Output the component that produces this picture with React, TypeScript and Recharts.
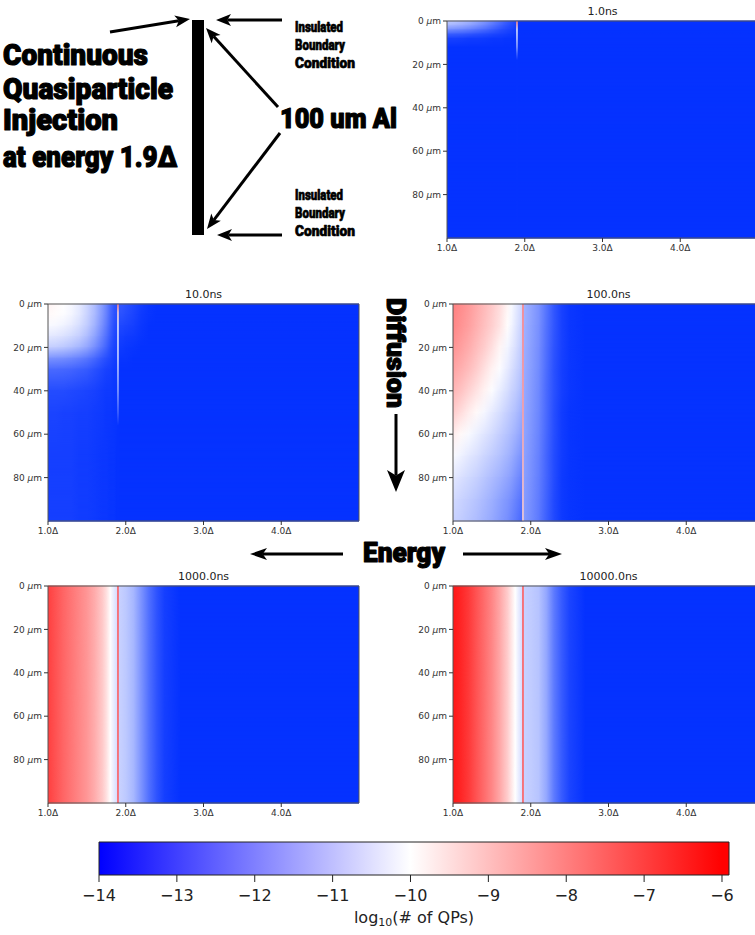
import React from 'react';
import { ComposedChart, XAxis, YAxis, ReferenceArea, Scatter } from 'recharts';

// energy grid (units of Delta) shared by every heat-map row
const ENERGY_NODES = [1.0, 1.1, 1.2, 1.3, 1.4, 1.5, 1.6, 1.7, 1.75, 1.8, 1.85, 1.88, 1.92, 1.95, 2.0, 2.1, 2.2, 2.3, 2.4, 2.5, 2.7, 3.0, 5.0];
const ENERGY_TICKS = [1, 2, 3, 4];
const DEPTH_TICKS = [0, 20, 40, 60, 80];
const E_MIN = 1;
const E_MAX = 5;
const DEPTH_MAX = 100;
const INJECTION_ENERGY = 1.9;

// ---- 1.0 ns : log10(# of QPs) per depth row (um) ----
const DEPTHS_1NS = [0, 2, 4, 6, 8, 12, 100];
const ROWS_1NS = [
  [-11.0, -11.1, -11.3, -11.5, -11.8, -12.1, -12.5, -12.9, -13.1, -13.3, -13.5, -13.6, -13.9, -14, -14, -14, -14, -14, -14, -14, -14, -14, -14],
  [-11.4, -11.5, -11.65, -11.85, -12.1, -12.4, -12.75, -13.1, -13.3, -13.45, -13.6, -13.7, -14, -14, -14, -14, -14, -14, -14, -14, -14, -14, -14],
  [-12.2, -12.3, -12.4, -12.55, -12.75, -12.95, -13.2, -13.45, -13.55, -13.65, -13.75, -13.8, -14, -14, -14, -14, -14, -14, -14, -14, -14, -14, -14],
  [-13.1, -13.15, -13.2, -13.3, -13.4, -13.5, -13.6, -13.7, -13.75, -13.8, -13.85, -13.9, -14, -14, -14, -14, -14, -14, -14, -14, -14, -14, -14],
  [-13.7, -13.7, -13.75, -13.8, -13.8, -13.85, -13.9, -13.9, -13.95, -13.95, -14, -14, -14, -14, -14, -14, -14, -14, -14, -14, -14, -14, -14],
  [-14, -14, -14, -14, -14, -14, -14, -14, -14, -14, -14, -14, -14, -14, -14, -14, -14, -14, -14, -14, -14, -14, -14],
  [-14, -14, -14, -14, -14, -14, -14, -14, -14, -14, -14, -14, -14, -14, -14, -14, -14, -14, -14, -14, -14, -14, -14],
];
const LINE_DEPTHS_1NS = [0, 2, 4, 8, 12, 15, 18, 100];
const LINE_VALUES_1NS = [-8.0, -8.8, -10.5, -11.0, -11.8, -13.0, -14, -14];

// ---- 10.0 ns ----
const DEPTHS_10NS = [0, 5, 10, 15, 20, 25, 30, 40, 50, 70, 100];
const ROWS_10NS = [
  [-9.8, -9.9, -10.0, -10.15, -10.4, -10.8, -11.3, -12.0, -12.4, -12.9, -13.3, -13.4, -13.3, -13.3, -13.4, -13.6, -13.8, -13.95, -14, -14, -14, -14, -14],
  [-9.9, -9.95, -10.05, -10.2, -10.45, -10.85, -11.35, -12.05, -12.45, -12.95, -13.35, -13.45, -13.4, -13.4, -13.5, -13.65, -13.85, -13.95, -14, -14, -14, -14, -14],
  [-10.1, -10.15, -10.25, -10.4, -10.65, -11.0, -11.5, -12.2, -12.6, -13.05, -13.45, -13.55, -13.6, -13.6, -13.65, -13.75, -13.9, -14, -14, -14, -14, -14, -14],
  [-10.45, -10.5, -10.6, -10.75, -10.95, -11.3, -11.8, -12.45, -12.8, -13.2, -13.55, -13.65, -13.75, -13.75, -13.8, -13.85, -13.95, -14, -14, -14, -14, -14, -14],
  [-10.95, -11.0, -11.1, -11.25, -11.45, -11.75, -12.2, -12.75, -13.05, -13.4, -13.65, -13.7, -13.85, -13.85, -13.9, -13.95, -14, -14, -14, -14, -14, -14, -14],
  [-12.1, -12.15, -12.2, -12.3, -12.45, -12.65, -12.95, -13.3, -13.45, -13.6, -13.75, -13.8, -13.95, -13.95, -13.95, -14, -14, -14, -14, -14, -14, -14, -14],
  [-12.9, -12.9, -12.95, -13.0, -13.1, -13.2, -13.4, -13.6, -13.7, -13.75, -13.85, -13.85, -14, -14, -14, -14, -14, -14, -14, -14, -14, -14, -14],
  [-13.5, -13.5, -13.5, -13.55, -13.6, -13.65, -13.7, -13.8, -13.85, -13.85, -13.9, -13.9, -14, -14, -14, -14, -14, -14, -14, -14, -14, -14, -14],
  [-13.65, -13.65, -13.7, -13.7, -13.75, -13.75, -13.8, -13.85, -13.9, -13.9, -13.95, -13.95, -14, -14, -14, -14, -14, -14, -14, -14, -14, -14, -14],
  [-13.75, -13.75, -13.75, -13.75, -13.8, -13.8, -13.85, -13.9, -13.9, -13.95, -13.95, -14, -14, -14, -14, -14, -14, -14, -14, -14, -14, -14, -14],
  [-13.75, -13.75, -13.75, -13.75, -13.8, -13.8, -13.85, -13.9, -13.9, -13.95, -13.95, -14, -14, -14, -14, -14, -14, -14, -14, -14, -14, -14, -14],
];
const LINE_DEPTHS_10NS = [0, 4, 10, 25, 40, 50, 56, 100];
const LINE_VALUES_10NS = [-8.0, -9.3, -10.5, -10.8, -11.8, -13.0, -14, -14];

// ---- 100.0 ns ----
const DEPTHS_100NS = [0, 10, 20, 30, 40, 50, 60, 70, 80, 90, 100];
const ROWS_100NS = [
  [-8.0, -8.2, -8.4, -8.65, -8.9, -9.15, -9.45, -9.85, -10.1, -10.35, -10.6, -10.75, -11.5, -11.6, -11.75, -12.1, -12.7, -13.3, -13.7, -13.9, -14, -14, -14],
  [-8.1, -8.3, -8.5, -8.75, -9.0, -9.25, -9.55, -9.95, -10.2, -10.45, -10.7, -10.85, -11.55, -11.65, -11.8, -12.15, -12.75, -13.3, -13.7, -13.9, -14, -14, -14],
  [-8.3, -8.5, -8.7, -8.95, -9.2, -9.5, -9.85, -10.2, -10.4, -10.6, -10.85, -11.0, -11.6, -11.7, -11.85, -12.2, -12.8, -13.35, -13.7, -13.9, -14, -14, -14],
  [-8.55, -8.75, -8.95, -9.2, -9.5, -9.8, -10.05, -10.4, -10.6, -10.8, -11.0, -11.15, -11.65, -11.75, -11.9, -12.25, -12.85, -13.4, -13.75, -13.9, -14, -14, -14],
  [-8.85, -9.05, -9.3, -9.55, -9.8, -10.05, -10.35, -10.65, -10.85, -11.0, -11.2, -11.35, -11.7, -11.8, -11.95, -12.3, -12.9, -13.4, -13.75, -13.9, -14, -14, -14],
  [-9.2, -9.45, -9.7, -9.9, -10.15, -10.4, -10.65, -10.95, -11.1, -11.25, -11.45, -11.6, -11.75, -11.85, -12.0, -12.35, -12.9, -13.45, -13.8, -13.95, -14, -14, -14],
  [-9.7, -9.9, -10.1, -10.3, -10.5, -10.7, -10.95, -11.2, -11.35, -11.5, -11.7, -11.85, -11.8, -11.9, -12.05, -12.4, -12.95, -13.45, -13.8, -13.95, -14, -14, -14],
  [-10.1, -10.25, -10.45, -10.6, -10.8, -11.0, -11.2, -11.45, -11.6, -11.8, -12.0, -12.15, -11.85, -11.95, -12.1, -12.45, -13.0, -13.5, -13.8, -13.95, -14, -14, -14],
  [-10.45, -10.6, -10.75, -10.9, -11.1, -11.3, -11.5, -11.75, -11.9, -12.1, -12.3, -12.45, -11.9, -12.0, -12.15, -12.5, -13.0, -13.5, -13.85, -13.95, -14, -14, -14],
  [-10.7, -10.85, -11.0, -11.15, -11.35, -11.55, -11.8, -12.05, -12.2, -12.4, -12.6, -12.75, -11.95, -12.05, -12.2, -12.55, -13.05, -13.55, -13.85, -13.95, -14, -14, -14],
  [-10.9, -11.0, -11.15, -11.3, -11.5, -11.7, -11.95, -12.2, -12.4, -12.6, -12.8, -12.95, -12.0, -12.1, -12.25, -12.6, -13.1, -13.55, -13.85, -13.95, -14, -14, -14],
];
const LINE_DEPTHS_100NS = [0, 50, 100];
const LINE_VALUES_100NS = [-8.0, -8.5, -9.3];

// ---- 1000.0 ns (no depth dependence) ----
const DEPTHS_1000NS = [0, 100];
const PROFILE_1000NS = [-7.0, -7.3, -7.6, -7.85, -8.1, -8.35, -8.7, -9.15, -9.5, -9.95, -10.4, -10.6, -10.9, -10.95, -11.05, -11.4, -12.1, -12.8, -13.35, -13.75, -14, -14, -14];
const LINE_DEPTHS_1000NS = [0, 100];
const LINE_VALUES_1000NS = [-7.4, -7.4];

// ---- 10000.0 ns (no depth dependence) ----
const DEPTHS_10000NS = [0, 100];
const PROFILE_10000NS = [-6.35, -6.6, -6.9, -7.3, -7.7, -8.1, -8.6, -9.2, -9.6, -10.0, -10.4, -10.6, -10.9, -10.95, -11.0, -11.15, -11.7, -12.6, -13.2, -13.65, -14, -14, -14];
const LINE_DEPTHS_10000NS = [0, 100];
const LINE_VALUES_10000NS = [-7.4, -7.4];

// colour bar
const CBAR_TICKS = [-14, -13, -12, -11, -10, -9, -8, -7, -6];
const CBAR_START = -14;
const CBAR_END = -5.91;

// bwr colour maps (panels were captured slightly bluer than the bar)
const PANEL_MAP = [
  { v: -14, rgb: [5, 50, 255] },
  { v: -10, rgb: [255, 255, 255] },
  { v: -6, rgb: [255, 0, 0] },
];
const BAR_MAP = [
  { v: -14, rgb: [0, 0, 255] },
  { v: -10, rgb: [255, 255, 255] },
  { v: -6, rgb: [255, 0, 0] },
];

function colorAt(map: { v: number; rgb: number[] }[], v: number) {
  const fmt = (c: number[]) => `rgb(${c.map((x) => Math.round(x)).join(',')})`;
  if (v <= map[0].v) return fmt(map[0].rgb);
  for (let i = 0; i < map.length - 1; i++) {
    const a = map[i];
    const b = map[i + 1];
    if (v <= b.v) {
      const t = (v - a.v) / (b.v - a.v);
      return fmt(a.rgb.map((c, k) => c + (b.rgb[k] - c) * t));
    }
  }
  return fmt(map[map.length - 1].rgb);
}

const PLOT_W = 311;
const PLOT_H = 217;
const Y_AXIS_W = 50;

const PANELS = [
  { id: 'p1', title: '1.0ns', depths: DEPTHS_1NS, rows: ROWS_1NS, lineDepths: LINE_DEPTHS_1NS, lineValues: LINE_VALUES_1NS, left: 447, top: 21 },
  { id: 'p2', title: '10.0ns', depths: DEPTHS_10NS, rows: ROWS_10NS, lineDepths: LINE_DEPTHS_10NS, lineValues: LINE_VALUES_10NS, left: 48, top: 304 },
  { id: 'p3', title: '100.0ns', depths: DEPTHS_100NS, rows: ROWS_100NS, lineDepths: LINE_DEPTHS_100NS, lineValues: LINE_VALUES_100NS, left: 453, top: 304 },
  { id: 'p4', title: '1000.0ns', depths: DEPTHS_1000NS, rows: [PROFILE_1000NS, PROFILE_1000NS], lineDepths: LINE_DEPTHS_1000NS, lineValues: LINE_VALUES_1000NS, left: 48, top: 586 },
  { id: 'p5', title: '10000.0ns', depths: DEPTHS_10000NS, rows: [PROFILE_10000NS, PROFILE_10000NS], lineDepths: LINE_DEPTHS_10000NS, lineValues: LINE_VALUES_10000NS, left: 453, top: 586 },
];

const TICK_FONT = 'DejaVu Sans, sans-serif';
const NoMark = () => <g />;

function Defs() {
  return (
    <svg width={0} height={0} style={{ position: 'absolute', left: 0, top: 0 }}>
      <defs>
        <linearGradient id="vramp-grad" x1="0" y1="0" x2="0" y2="1">
          <stop offset="0" stopColor="#fff" stopOpacity={0} />
          <stop offset="1" stopColor="#fff" stopOpacity={1} />
        </linearGradient>
        <mask id="vramp" maskContentUnits="objectBoundingBox">
          <rect x={0} y={0} width={1} height={1} fill="url(#vramp-grad)" />
        </mask>
        {PANELS.map((p) => (
          <React.Fragment key={p.id}>
            {p.rows.map((row, i) => (
              <linearGradient key={i} id={`${p.id}-row-${i}`} x1="0" y1="0" x2="1" y2="0">
                {row.map((v, j) => (
                  <stop key={j} offset={(ENERGY_NODES[j] - E_MIN) / (E_MAX - E_MIN)} stopColor={colorAt(PANEL_MAP, v)} />
                ))}
              </linearGradient>
            ))}
            <linearGradient id={`${p.id}-line`} x1="0" y1="0" x2="0" y2="1">
              {p.lineValues.map((v, j) => (
                <stop key={j} offset={p.lineDepths[j] / DEPTH_MAX} stopColor={colorAt(PANEL_MAP, v)} />
              ))}
            </linearGradient>
          </React.Fragment>
        ))}
        <linearGradient id="cbar" x1="0" y1="0" x2="1" y2="0">
          {BAR_MAP.map((s) => (
            <stop key={s.v} offset={(s.v - CBAR_START) / (CBAR_END - CBAR_START)} stopColor={colorAt(BAR_MAP, s.v)} />
          ))}
          <stop offset={1} stopColor={colorAt(BAR_MAP, CBAR_END)} />
        </linearGradient>
      </defs>
    </svg>
  );
}

// one depth band: top row colours blended into the next row's colours
const bandShape = (topId: string, bottomId: string) => (props: any) => {
  const { x, y, width, height } = props;
  return (
    <g>
      <rect x={x} y={y - 0.5} width={width} height={height + 1} fill={`url(#${topId})`} />
      <rect x={x} y={y - 0.5} width={width} height={height + 1} fill={`url(#${bottomId})`} mask="url(#vramp)" />
    </g>
  );
};

const DepthTick = (props: any) => {
  const { x, y, payload } = props;
  return (
    <text x={x} y={y} dy="0.35em" textAnchor="end" fontSize={9} fill="#333" fontFamily={TICK_FONT}>
      {`${payload.value} `}
      <tspan fontStyle="italic">μ</tspan>m
    </text>
  );
};

const EnergyTick = (props: any) => {
  const { x, y, payload } = props;
  return (
    <text x={x} y={y} dy="0.71em" textAnchor="middle" fontSize={9} fill="#333" fontFamily={TICK_FONT}>
      {`${Number(payload.value).toFixed(1)}Δ`}
    </text>
  );
};

function Heatmap({ p }: { p: (typeof PANELS)[number] }) {
  // injection-line nodes give the axes their data
  const lineNodes = p.lineDepths.map((d, i) => ({ e: INJECTION_ENERGY, d, v: p.lineValues[i] }));
  return (
    <>
      <div
        style={{
          position: 'absolute',
          left: p.left,
          top: p.top - 16,
          width: PLOT_W,
          textAlign: 'center',
          fontFamily: TICK_FONT,
          fontSize: 11,
          lineHeight: '13px',
          color: '#222',
        }}
      >
        {p.title}
      </div>
      <div style={{ position: 'absolute', left: p.left - Y_AXIS_W, top: p.top - 5 }}>
        <ComposedChart width={Y_AXIS_W + PLOT_W + 10} height={5 + PLOT_H + 20} margin={{ top: 5, right: 10, bottom: 0, left: 0 }}>
          <XAxis
            type="number"
            dataKey="e"
            domain={[E_MIN, E_MAX]}
            allowDataOverflow
            ticks={ENERGY_TICKS}
            interval={0}
            tick={<EnergyTick />}
            tickSize={4}
            tickMargin={3}
            height={20}
            axisLine={false}
            tickLine={{ stroke: '#333' }}
          />
          <YAxis
            type="number"
            dataKey="d"
            domain={[0, DEPTH_MAX]}
            reversed
            allowDataOverflow
            ticks={DEPTH_TICKS}
            interval={0}
            tick={<DepthTick />}
            tickSize={4}
            tickMargin={2}
            width={Y_AXIS_W}
            axisLine={false}
            tickLine={{ stroke: '#333' }}
          />
          {p.depths.slice(0, -1).map((d, i) => (
            <ReferenceArea
              key={`band-${i}`}
              x1={E_MIN}
              x2={E_MAX}
              y1={d}
              y2={p.depths[i + 1]}
              ifOverflow="visible"
              shape={bandShape(`${p.id}-row-${i}`, `${p.id}-row-${i + 1}`)}
            />
          ))}
          <ReferenceArea
            x1={INJECTION_ENERGY - 0.01}
            x2={INJECTION_ENERGY + 0.01}
            y1={0}
            y2={DEPTH_MAX}
            ifOverflow="visible"
            fill={`url(#${p.id}-line)`}
            fillOpacity={1}
            stroke="none"
          />
          <Scatter data={lineNodes} dataKey="d" shape={<NoMark />} isAnimationActive={false} />
          <ReferenceArea x1={E_MIN} x2={E_MAX} y1={0} y2={DEPTH_MAX} ifOverflow="visible" fill="none" stroke="#555" strokeWidth={1} />
        </ComposedChart>
      </div>
    </>
  );
}

function ColorBar() {
  const tickNodes = CBAR_TICKS.map((v) => ({ v, y: 0.5 }));
  return (
    <>
      <div style={{ position: 'absolute', left: 0, top: 840 }}>
        <ComposedChart width={755} height={85} margin={{ top: 2, right: 26, bottom: 0, left: 99 }}>
          <XAxis
            type="number"
            dataKey="v"
            domain={[CBAR_START, CBAR_END]}
            allowDataOverflow
            ticks={CBAR_TICKS}
            interval={0}
            tickFormatter={(v: number) => (v < 0 ? `\u2212${Math.abs(v)}` : String(v))}
            tick={{ fontSize: 16, fill: '#222', fontFamily: TICK_FONT }}
            tickSize={7}
            tickMargin={8}
            height={50}
            axisLine={false}
            tickLine={{ stroke: '#222' }}
          />
          <YAxis hide type="number" dataKey="y" domain={[0, 1]} allowDataOverflow />
          <ReferenceArea x1={CBAR_START} x2={CBAR_END} y1={0} y2={1} ifOverflow="visible" fill="url(#cbar)" fillOpacity={1} stroke="#222" strokeWidth={1} />
          <Scatter data={tickNodes} dataKey="y" shape={<NoMark />} isAnimationActive={false} />
        </ComposedChart>
      </div>
      <div
        style={{
          position: 'absolute',
          left: 99,
          width: 630,
          top: 908,
          textAlign: 'center',
          fontFamily: TICK_FONT,
          fontSize: 16,
          lineHeight: '20px',
          color: '#222',
        }}
      >
        log<span style={{ fontSize: 11, verticalAlign: '-3px' }}>10</span>(# of QPs)
      </div>
    </>
  );
}

function Arrow({ x1, y1, x2, y2, head = 15, half = 6, width = 3 }: { x1: number; y1: number; x2: number; y2: number; head?: number; half?: number; width?: number }) {
  const len = Math.hypot(x2 - x1, y2 - y1);
  const ux = (x2 - x1) / len;
  const uy = (y2 - y1) / len;
  const nx = -uy;
  const ny = ux;
  const bx = x2 - ux * head;
  const by = y2 - uy * head;
  const kx = x2 - ux * head * 0.75;
  const ky = y2 - uy * head * 0.75;
  const pts = [
    [x2, y2],
    [bx + nx * half, by + ny * half],
    [kx, ky],
    [bx - nx * half, by - ny * half],
  ]
    .map((q) => q.join(','))
    .join(' ');
  return (
    <g>
      <line x1={x1} y1={y1} x2={kx} y2={ky} stroke="#000" strokeWidth={width} />
      <polygon points={pts} fill="#000" />
    </g>
  );
}

const HEAVY: React.CSSProperties = { fontFamily: "Roboto, 'Liberation Sans', Arial, sans-serif", fontWeight: 900 };

function Annotations() {
  const t = (x: number, y: number, s: number, w: number, str: string, sw = 1.2) => (
    <text x={x} y={y} fontSize={s} textLength={w} lengthAdjust="spacingAndGlyphs" strokeWidth={sw}>
      {str}
    </text>
  );
  return (
    <svg width={755} height={935} style={{ position: 'absolute', left: 0, top: 0, pointerEvents: 'none' }}>
      <g style={HEAVY} fill="#000" stroke="#000" strokeLinejoin="round">
        {t(3, 65, 29, 145, 'Continuous')}
        {t(3, 99, 29, 170, 'Quasiparticle')}
        {t(3, 130, 29, 115, 'Injection')}
        {t(3, 167, 29, 174, 'at energy 1.9Δ')}
        {t(280, 128, 28, 117, '100 um Al')}
        {t(295, 32, 15, 48, 'Insulated', 0.7)}
        {t(295, 50, 15, 50, 'Boundary', 0.7)}
        {t(295, 68, 15, 60, 'Condition', 0.7)}
        {t(295, 200, 15, 48, 'Insulated', 0.7)}
        {t(295, 218, 15, 50, 'Boundary', 0.7)}
        {t(295, 236, 15, 60, 'Condition', 0.7)}
        {t(363, 562, 27, 82, 'Energy')}
        <text transform="translate(387,298) rotate(90)" fontSize={25} textLength={110} lengthAdjust="spacingAndGlyphs" strokeWidth={1.1}>
          Diffusion
        </text>
      </g>
      <rect x={192} y={20} width={12} height={215} fill="#000" />
      <Arrow x1={110} y1={32} x2={190} y2={19} />
      <Arrow x1={282} y1={20} x2={216} y2={20} />
      <Arrow x1={278} y1={107} x2={206} y2={28} />
      <Arrow x1={280} y1={133} x2={207} y2={229} />
      <Arrow x1={282} y1={235} x2={217} y2={235} />
      <Arrow x1={396} y1={414} x2={396} y2={492} head={22} half={9} width={3} />
      <Arrow x1={343} y1={554} x2={250} y2={554} head={17} half={6} width={3} />
      <Arrow x1={463} y1={554} x2={562} y2={554} head={17} half={6} width={3} />
    </svg>
  );
}

export default function App() {
  return (
    <div style={{ position: 'absolute', left: 0, top: 0, width: 755, height: 935, overflow: 'hidden', background: '#fff' }}>
      <Defs />
      {PANELS.map((p) => (
        <Heatmap key={p.id} p={p} />
      ))}
      <ColorBar />
      <Annotations />
    </div>
  );
}
